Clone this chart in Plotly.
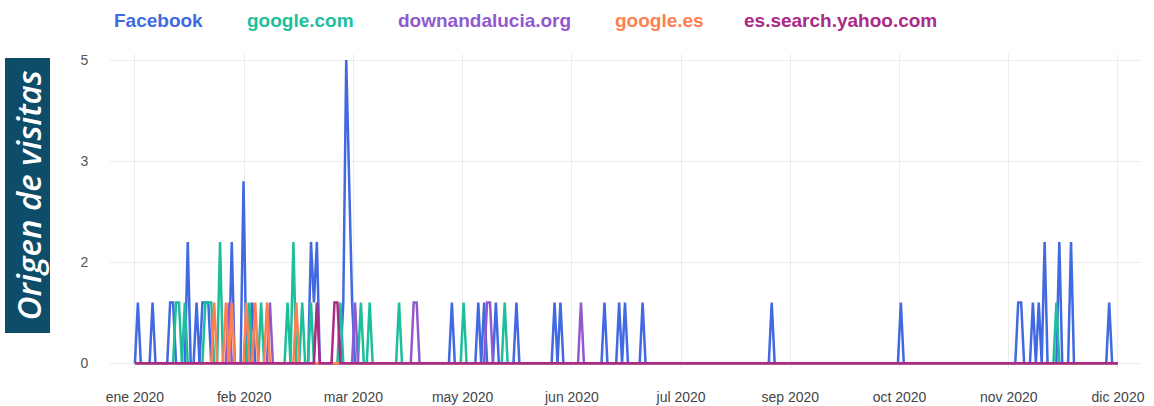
import plotly.graph_objects as go

# ---------------- data ----------------
N_DAYS = 336  # daily points, 1 ene 2020 .. 1 dic 2020 (index 0..335)

x_tick_labels = ["ene 2020", "feb 2020", "mar 2020", "may 2020", "jun 2020",
                 "jul 2020", "sep 2020", "oct 2020", "nov 2020", "dic 2020"]
y_tick_labels = ["0", "2", "3", "5"]

series_names = ["Facebook", "google.com", "downandalucia.org", "google.es", "es.search.yahoo.com"]
series_colors = ["#4169E1", "#1DBF9B", "#9159D0", "#FF7F50", "#AB2A86"]

# days with visits (index from 1 ene) and the number of visits on those days
facebook_days = [1, 6, 12, 13, 18, 21, 23, 24, 25, 33, 37, 40, 60, 61, 62, 71, 72, 73, 74,
                 108, 117, 119, 123, 130, 143, 145, 160, 165, 167, 173, 217, 261,
                 301, 302, 306, 308, 310, 315, 319, 332]
facebook_visits = [1, 1, 1, 1, 2, 1, 1, 1, 1, 2, 3, 1, 2, 1, 2, 1, 5, 3, 1,
                   1, 1, 1, 1, 1, 1, 1, 1, 1, 1, 1, 1, 1,
                   1, 1, 1, 1, 2, 2, 2, 1]

googlecom_days = [14, 15, 17, 24, 25, 26, 29, 39, 43, 52, 54, 57, 60, 70, 77, 80, 90, 112, 126, 314]
googlecom_visits = [1, 1, 1, 1, 1, 1, 2, 1, 1, 1, 2, 1, 1, 1, 1, 1, 1, 1, 1, 1]

downandalucia_days = [32, 46, 75, 95, 96, 120, 121, 152]
downandalucia_visits = [1, 1, 1, 1, 1, 1, 1, 1]

googlees_days = [27, 31, 33, 38, 41, 45, 55]
googlees_visits = [1, 1, 1, 1, 1, 1, 1]

yahoo_days = [62, 68, 69]
yahoo_visits = [1, 1, 1]

days = list(range(N_DAYS))


def daily(day_list, visit_list):
    out = [0] * N_DAYS
    for d, v in zip(day_list, visit_list):
        out[d] = v
    return out


series_values = [
    daily(facebook_days, facebook_visits),
    daily(googlecom_days, googlecom_visits),
    daily(downandalucia_days, downandalucia_visits),
    daily(googlees_days, googlees_visits),
    daily(yahoo_days, yahoo_visits),
]

# ---------------- figure ----------------
fig = go.Figure()
for name, color, vals in zip(series_names, series_colors, series_values):
    fig.add_trace(go.Scatter(
        x=days, y=vals, name=name, mode="lines",
        line=dict(color=color, width=2.5, shape="linear"),
        showlegend=False,
    ))

# plot-area geometry (pixels)
W, H = 1154, 406
ML, MR, MT, MB = 110, 14, 54, 38
PW, PH = W - ML - MR, H - MT - MB

n_ticks = len(x_tick_labels)
x_tickvals = [i * (N_DAYS - 1) / (n_ticks - 1) for i in range(n_ticks)]
y_max = 5
y_tickvals = [i * y_max / (len(y_tick_labels) - 1) for i in range(len(y_tick_labels))]

TICK_FONT = "Liberation Sans, Arial, sans-serif"

fig.update_layout(
    width=W, height=H,
    margin=dict(l=ML, r=MR, t=MT, b=MB, autoexpand=False),
    paper_bgcolor="white", plot_bgcolor="white",
    font=dict(family=TICK_FONT, color="#555"),
    xaxis=dict(
        range=[-8.5, 342.5], tickmode="array", tickvals=x_tickvals, ticktext=x_tick_labels,
        showgrid=True, gridcolor="#ececec", gridwidth=1, zeroline=False, showline=False,
        ticks="outside", ticklen=16, tickcolor="rgba(0,0,0,0)", automargin=False,
        tickfont=dict(size=14, color="#444", family=TICK_FONT),
    ),
    yaxis=dict(
        range=[-0.08, 5.1], tickmode="array", tickvals=y_tickvals, ticktext=y_tick_labels,
        showgrid=True, gridcolor="#ececec", gridwidth=1, zeroline=False, showline=False,
        ticks="outside", ticklen=18, tickcolor="rgba(0,0,0,0)", automargin=False,
        tickfont=dict(size=14, color="#555", family=TICK_FONT),
    ),
    hovermode="x",
)


def px_x(p):
    return (p - ML) / PW


def px_y(p):
    return (H - MB - p) / PH


# text-only legend
legend_left_px = [114, 247, 398, 615, 744]
for name, color, lx in zip(series_names, series_colors, legend_left_px):
    fig.add_annotation(
        text="<b>" + name + "</b>", xref="paper", yref="paper", x=px_x(lx), y=px_y(20),
        xanchor="left", yanchor="middle", showarrow=False, xshift=-2,
        font=dict(family=TICK_FONT, size=19, color=color),
    )

# side label box
fig.add_shape(
    type="rect", xref="paper", yref="paper",
    x0=px_x(5), x1=px_x(50), y0=px_y(333), y1=px_y(58),
    fillcolor="#0E4D69", line=dict(width=0), layer="above",
)
fig.add_annotation(
    text="<i>Origen de visitas</i>", xref="paper", yref="paper",
    x=px_x(27.5), y=px_y(196), xanchor="center", yanchor="middle",
    textangle=-90, showarrow=False,
    font=dict(family="Open Sans, Noto Sans, sans-serif", size=33, color="white", weight=600),
)

fig.write_html("out.html", config={"displayModeBar": False},
               post_script="document.body.style.margin='0';")
